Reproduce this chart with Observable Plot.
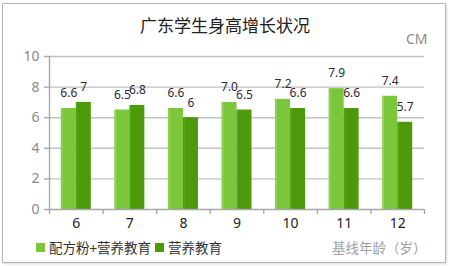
<!DOCTYPE html>
<html>
<head>
<meta charset="utf-8">
<script src="https://cdn.jsdelivr.net/npm/d3@7"></script>
<script src="https://cdn.jsdelivr.net/npm/@observablehq/plot@0.6"></script>
<style>
  html, body { margin: 0; padding: 0; background: #fff; }
  #wrap { position: relative; width: 450px; height: 266px; overflow: hidden; font-family: "Noto Sans CJK SC", "Noto Sans", sans-serif; }
  #frame { position: absolute; left: 2px; top: 3px; width: 442px; height: 258px; border: 1px solid #b4b4b4; box-shadow: 1px 1px 2px rgba(0,0,0,0.15); }
  #title { position: absolute; left: 0; width: 450px; top: 12px; text-align: center; font-size: 17px; color: #222; }
  #unit { position: absolute; left: 406px; top: 29px; font-size: 14px; color: #8a8a8a; font-family: "Noto Sans", sans-serif; }
  #chart { position: absolute; left: 0; top: 0; }
  #legend { position: absolute; left: 36px; top: 237px; font-size: 13.5px; color: #333; display: flex; align-items: center; }
  .sw { display: inline-block; width: 9px; height: 9px; margin-right: 4px; }
  .item { display: flex; align-items: center; margin-right: 4px; }
  #xlabel { position: absolute; left: 332px; top: 237px; font-size: 13.5px; color: #a0a0a0; }
</style>
</head>
<body>
<div id="wrap">
  <div id="frame"></div>
  <div id="chart"></div>
  <div id="title">广东学生身高增长状况</div>
  <div id="unit">CM</div>
  <div id="legend"></div>
  <div id="xlabel">基线年龄（岁）</div>
</div>
<script>
const ages = [6, 7, 8, 9, 10, 11, 12];
const seriesNames = ["配方粉+营养教育", "营养教育"];
const formulaValues = [6.6, 6.5, 6.6, 7.0, 7.2, 7.9, 7.4];
const formulaLabels = ["6.6", "6.5", "6.6", "7.0", "7.2", "7.9", "7.4"];
const nutritionValues = [7, 6.8, 6, 6.5, 6.6, 6.6, 5.7];
const nutritionLabels = ["7", "6.8", "6", "6.5", "6.6", "6.6", "5.7"];
const yTicks = [0, 2, 4, 6, 8, 10];
const colors = ["#7cc63c", "#4c9a0a"];

const halfBand = 0.5;
const barW = 0.28;
const boundaries = [...ages.map(a => a - halfBand), ages[ages.length - 1] + halfBand];

const rows = [];
ages.forEach((a, i) => {
  rows.push({age: a, s: 0, value: formulaValues[i], label: formulaLabels[i]});
  rows.push({age: a, s: 1, value: nutritionValues[i], label: nutritionLabels[i]});
});

const chart = Plot.plot({
  width: 450,
  height: 236,
  marginTop: 56,
  marginBottom: 27,
  marginLeft: 49,
  marginRight: 26,
  style: {background: "transparent", overflow: "visible"},
  x: {domain: [ages[0] - halfBand, ages[ages.length - 1] + halfBand], axis: null},
  y: {domain: [0, 10], axis: null},
  marks: [
    Plot.ruleY(yTicks.filter(t => t > 0), {stroke: "#c2c2c2", strokeWidth: 1.4}),
    Plot.rectY(rows, {
      x1: d => d.s === 0 ? d.age - barW : d.age,
      x2: d => d.s === 0 ? d.age : d.age + barW,
      y1: 0,
      y2: "value",
      fill: d => colors[d.s]
    }),
    Plot.ruleX(rows.filter(d => d.s === 0), {x: d => d.age - barW + 0.015, y1: 0, y2: "value", stroke: "#9ad866", strokeWidth: 1}),
    Plot.ruleX(rows.filter(d => d.s === 1), {x: d => d.age + 0.015, y1: 0, y2: "value", stroke: "#5aaa18", strokeWidth: 1}),
    Plot.text(rows, {
      x: d => d.s === 0 ? d.age - barW / 2 : d.age + barW / 2,
      y: "value",
      text: "label",
      dy: -15,
      fill: "#2a2a3a",
      fontSize: 12,
      fontFamily: "Noto Sans, sans-serif"
    }),
    Plot.ruleX([ages[0] - halfBand], {stroke: "#a8a8a8", strokeWidth: 1.4}),
    Plot.ruleY([0], {stroke: "#a8a8a8", strokeWidth: 1.4}),
    Plot.axisY({ticks: yTicks, label: null, tickSize: 5, tickPadding: 5, stroke: "#a8a8a8", color: "#8a8a8a", fontSize: 14, fontFamily: "Noto Sans, sans-serif", strokeWidth: 1.4}),
    Plot.axisX({ticks: boundaries, label: null, tickSize: 5, tickFormat: () => "", stroke: "#a8a8a8", strokeWidth: 1.4}),
    Plot.axisX({ticks: ages, label: null, tickSize: 0, tickPadding: 9, tickFormat: d => String(d), color: "#222", fontSize: 14, fontFamily: "Noto Sans, sans-serif"})
  ]
});
document.getElementById("chart").appendChild(chart);

const legend = document.getElementById("legend");
seriesNames.forEach((name, i) => {
  const item = document.createElement("span");
  item.className = "item";
  const sw = document.createElement("span");
  sw.className = "sw";
  sw.style.background = colors[i];
  item.appendChild(sw);
  item.appendChild(document.createTextNode(name));
  legend.appendChild(item);
});
</script>
</body>
</html>
